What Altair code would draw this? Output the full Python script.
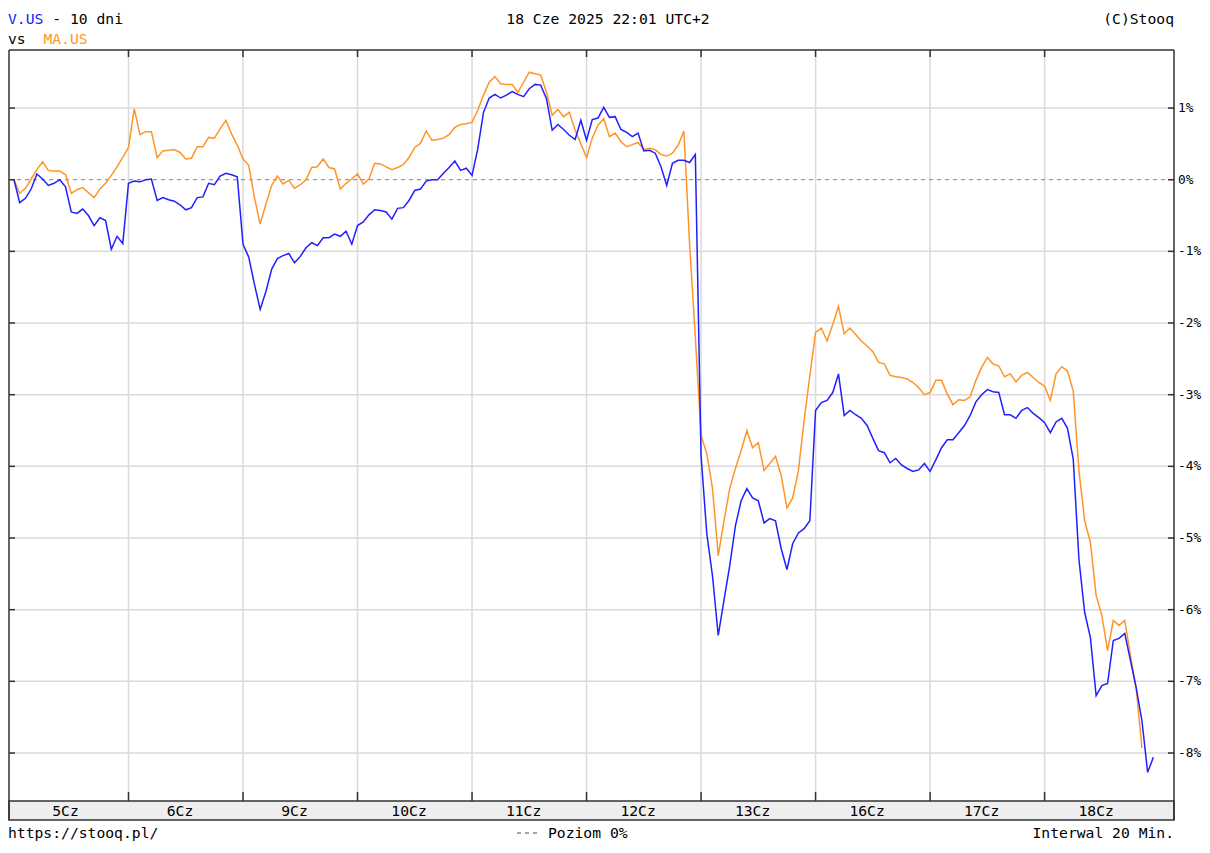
import altair as alt
import pandas as pd

# ---------------- data (percent change vs. start, 20-min bars) ----------------
days = ["5Cz", "6Cz", "9Cz", "10Cz", "11Cz", "12Cz", "13Cz", "16Cz", "17Cz", "18Cz"]
bars_per_day = 20

v_us = [
    0.00, -0.32, -0.26, -0.13, 0.08, 0.01, -0.08, -0.05, 0.00, -0.10,
    -0.45, -0.47, -0.41, -0.50, -0.64, -0.53, -0.57, -0.97, -0.79, -0.89,
    -0.05, -0.02, -0.03, 0.00, 0.01, -0.29, -0.25, -0.28, -0.30, -0.35,
    -0.42, -0.39, -0.25, -0.24, -0.05, -0.07, 0.05, 0.09, 0.07, 0.04,
    -0.90, -1.08, -1.46, -1.81, -1.56, -1.25, -1.10, -1.06, -1.03, -1.16,
    -1.07, -0.95, -0.88, -0.92, -0.81, -0.81, -0.76, -0.79, -0.72, -0.90,
    -0.64, -0.59, -0.49, -0.42, -0.43, -0.45, -0.55, -0.40, -0.39, -0.29,
    -0.15, -0.13, -0.02, 0.00, 0.00, 0.09, 0.17, 0.26, 0.13, 0.16,
    0.06, 0.43, 0.94, 1.14, 1.19, 1.14, 1.18, 1.23, 1.19, 1.16,
    1.27, 1.33, 1.32, 1.13, 0.69, 0.77, 0.70, 0.62, 0.56, 0.83,
    0.55, 0.84, 0.86, 1.01, 0.87, 0.88, 0.70, 0.66, 0.60, 0.65,
    0.40, 0.41, 0.37, 0.18, -0.08, 0.23, 0.27, 0.27, 0.24, 0.35,
    -3.85, -4.94, -5.53, -6.36, -5.87, -5.39, -4.83, -4.48, -4.31, -4.44,
    -4.48, -4.79, -4.73, -4.76, -5.15, -5.44, -5.08, -4.93, -4.87, -4.76,
    -3.22, -3.11, -3.08, -2.97, -2.71, -3.29, -3.22, -3.28, -3.33, -3.43,
    -3.61, -3.78, -3.81, -3.95, -3.89, -3.98, -4.03, -4.07, -4.05, -3.96,
    -4.07, -3.91, -3.74, -3.63, -3.63, -3.53, -3.43, -3.29, -3.10, -3.00,
    -2.93, -2.96, -2.97, -3.28, -3.28, -3.33, -3.22, -3.18, -3.26, -3.32,
    -3.39, -3.53, -3.38, -3.33, -3.47, -3.90, -5.30, -6.04, -6.39, -7.20,
    -7.06, -7.03, -6.43, -6.40, -6.33, -6.71, -7.09, -7.55, -8.27, -8.06,
]

ma_us = [
    0.00, -0.19, -0.12, 0.01, 0.14, 0.25, 0.13, 0.12, 0.12, 0.07,
    -0.19, -0.14, -0.11, -0.18, -0.25, -0.13, -0.05, 0.06, 0.18, 0.31,
    0.45, 0.99, 0.63, 0.67, 0.67, 0.31, 0.40, 0.41, 0.42, 0.38,
    0.29, 0.30, 0.46, 0.46, 0.59, 0.58, 0.71, 0.83, 0.64, 0.48,
    0.29, 0.20, -0.25, -0.62, -0.34, -0.08, 0.05, -0.06, -0.01, -0.12,
    -0.07, 0.00, 0.17, 0.18, 0.29, 0.17, 0.15, -0.13, -0.05, 0.01,
    0.08, -0.06, 0.01, 0.23, 0.22, 0.18, 0.14, 0.17, 0.21, 0.31,
    0.45, 0.51, 0.68, 0.55, 0.56, 0.58, 0.63, 0.73, 0.77, 0.78,
    0.80, 0.97, 1.18, 1.36, 1.44, 1.34, 1.33, 1.33, 1.22, 1.36,
    1.50, 1.48, 1.46, 1.22, 0.90, 0.98, 0.88, 0.94, 0.69, 0.50,
    0.31, 0.58, 0.76, 0.85, 0.60, 0.65, 0.53, 0.46, 0.49, 0.52,
    0.42, 0.44, 0.42, 0.35, 0.33, 0.37, 0.48, 0.68, -0.90, -2.20,
    -3.57, -3.82, -4.31, -5.25, -4.76, -4.31, -4.03, -3.78, -3.50, -3.74,
    -3.67, -4.06, -3.96, -3.86, -4.13, -4.58, -4.44, -4.06, -3.36, -2.73,
    -2.13, -2.07, -2.25, -2.02, -1.77, -2.15, -2.07, -2.16, -2.25, -2.32,
    -2.40, -2.55, -2.57, -2.73, -2.75, -2.76, -2.78, -2.83, -2.90, -3.00,
    -2.97, -2.80, -2.80, -2.99, -3.14, -3.07, -3.08, -3.03, -2.80, -2.62,
    -2.48, -2.57, -2.60, -2.75, -2.71, -2.82, -2.73, -2.69, -2.76, -2.83,
    -2.88, -3.08, -2.71, -2.61, -2.67, -2.95, -4.06, -4.76, -5.06, -5.80,
    -6.08, -6.57, -6.15, -6.22, -6.15, -6.64, -7.10, -7.93,
]

pct_levels = [1, 0, -1, -2, -3, -4, -5, -6, -7, -8]
pct_labels = ["1%", "0%", "-1%", "-2%", "-3%", "-4%", "-5%", "-6%", "-7%", "-8%"]

# ---------------- layout / style ----------------
W, H = 1165, 751          # plot area
BAND = 19                 # date band under the plot
FONT = "DejaVu Sans Mono"
FS = 14.7
BLUE = "#2020ff"
ORANGE = "#ff9526"
FRAME = "#333333"
GRID = "#dadada"

xs = alt.Scale(domain=[-0.87, 202.6], nice=False, zero=False)
ys = alt.Scale(domain=[-8.67, 1.81], nice=False, zero=False)

df_v = pd.DataFrame({"i": list(range(len(v_us))), "v": v_us})
df_m = pd.DataFrame({"i": list(range(len(ma_us))), "v": ma_us})
df_lvl = pd.DataFrame({"v": pct_levels, "lab": pct_labels})
df_grid_h = df_lvl[df_lvl["v"] != 0]
df_zero = df_lvl[df_lvl["v"] == 0]
df_bound = pd.DataFrame({"i": [bars_per_day * k for k in range(1, len(days))]})
df_days = pd.DataFrame({"i": [bars_per_day * k + 9 for k in range(len(days))], "d": days})
one = pd.DataFrame({"a": [0]})

X = alt.X("i:Q", scale=xs, axis=None)
Y = alt.Y("v:Q", scale=ys, axis=None)


def text(t, x, y, color="#000000", align="left"):
    return alt.Chart(pd.DataFrame({"t": [t]})).mark_text(
        align=align, baseline="alphabetic", font=FONT, fontSize=FS, color=color
    ).encode(text="t:N", x=alt.value(x), y=alt.value(y))


def hrule(x1, x2, y, color=FRAME, width=1.5, dash=None):
    kw = dict(color=color, strokeWidth=width)
    if dash:
        kw["strokeDash"] = dash
    return alt.Chart(one).mark_rule(**kw).encode(
        x=alt.value(x1), x2=alt.value(x2), y=alt.value(y))


def vrule(x, y1, y2, color=FRAME, width=1.5):
    return alt.Chart(one).mark_rule(color=color, strokeWidth=width).encode(
        x=alt.value(x), y=alt.value(y1), y2=alt.value(y2))


# gridlines
grid_h = alt.Chart(df_grid_h).mark_rule(color=GRID, strokeWidth=1.5).encode(
    y=Y, x=alt.value(0), x2=alt.value(W))
grid_v = alt.Chart(df_bound).mark_rule(color=GRID, strokeWidth=1.5).encode(
    x=X, y=alt.value(0), y2=alt.value(H))
zero = alt.Chart(df_zero).mark_rule(color="#999999", strokeWidth=1.3, strokeDash=[4, 4]).encode(
    y=Y, x=alt.value(0), x2=alt.value(W))

# ticks
tick_l = alt.Chart(df_lvl).mark_rule(color=FRAME, strokeWidth=1.5).encode(
    y=Y, x=alt.value(0), x2=alt.value(6))
tick_r = alt.Chart(df_lvl).mark_rule(color=FRAME, strokeWidth=1.5).encode(
    y=Y, x=alt.value(W - 6), x2=alt.value(W))
tick_t = alt.Chart(df_bound).mark_rule(color=FRAME, strokeWidth=1.5).encode(
    x=X, y=alt.value(0), y2=alt.value(7))
tick_b = alt.Chart(df_bound).mark_rule(color=FRAME, strokeWidth=1.5).encode(
    x=X, y=alt.value(H - 9), y2=alt.value(H))

# right labels
lab_r = alt.Chart(df_lvl).mark_text(
    align="left", baseline="middle", font=FONT, fontSize=12.8, color="#000000"
).encode(y=Y, x=alt.value(W + 4), text="lab:N")

# date band
band = alt.Chart(one).mark_rect(fill="#eeeeee", stroke=FRAME, strokeWidth=1.5).encode(
    x=alt.value(0), x2=alt.value(W), y=alt.value(H), y2=alt.value(H + BAND))
day_lab = alt.Chart(df_days).mark_text(
    align="center", baseline="alphabetic", font=FONT, fontSize=FS, color="#000000"
).encode(x=X, y=alt.value(H + 15), text="d:N")

# frame
frame = [
    hrule(0, W, 0),
    vrule(0, 0, H + BAND),
    vrule(W, 0, H + BAND),
]

# series
line_m = alt.Chart(df_m).mark_line(color=ORANGE, strokeWidth=1.5).encode(x=X, y=Y)
line_v = alt.Chart(df_v).mark_line(color=BLUE, strokeWidth=1.5).encode(x=X, y=Y)

# header / footer texts
texts = [
    text("V.US", -1, -26, BLUE),
    text("- 10 dni", 43.3, -26),
    text("vs", -1, -6),
    text("MA.US", 34.4, -6, ORANGE),
    text("18 Cze 2025 22:01 UTC+2", 599, -26, align="center"),
    text("(C)Stooq", W, -26, align="right"),
    text("https://stooq.pl/", -1, 788),
    hrule(508, 532, 783, color="#888888", width=1.3, dash=[4, 4]),
    text("Poziom 0%", 539, 788),
    text("Interwal 20 Min.", W, 788, align="right"),
]

chart = alt.layer(
    grid_h, grid_v, zero,
    line_m, line_v,
    tick_l, tick_r, tick_t, tick_b,
    band, day_lab, lab_r,
    *frame, *texts,
).properties(
    width=W,
    height=H,
    padding={"left": 1, "top": 42, "right": 28, "bottom": 40},
    autosize=alt.AutoSizeParams(type="none"),
    background="white",
).configure_view(stroke=None)

chart.save("out.html", embed_options={"renderer": "svg", "actions": False})
